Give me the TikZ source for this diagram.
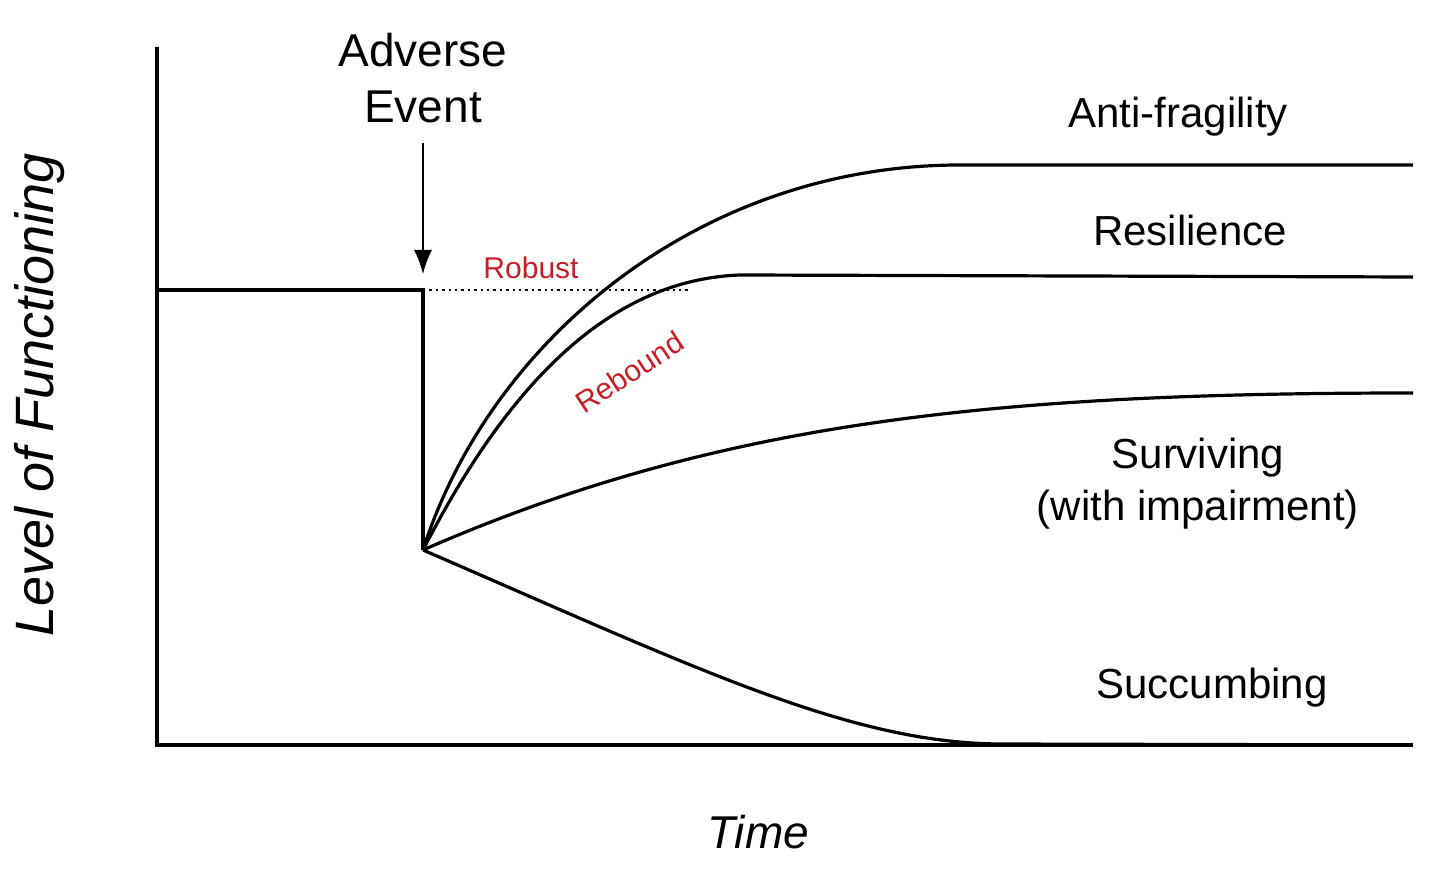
\documentclass[tikz,border=0pt]{standalone}
\usepackage{fontspec}
\setmainfont{Liberation Sans}
\usetikzlibrary{arrows.meta}
\begin{document}
\begin{tikzpicture}[x=0.5pt,y=-0.5pt,line width=1.6pt,
 lbl/.style={font=\fontsize{21}{26}\selectfont},
 red/.style={text={rgb,255:red,200;green,30;blue,40},font=\fontsize{15}{17}\selectfont}]
\useasboundingbox (0,0) rectangle (1440,881);
\coordinate (top) at (157,47);
\coordinate (o) at (157,745);
\coordinate (xe) at (1413,745);
\coordinate (b0) at (157,290);
\coordinate (b1) at (423,290);
\coordinate (low) at (423,550);
\coordinate (dot) at (690,290);
\draw (top) -- (o) -- (xe);
\draw (b0) -- (b1) -- (low);
\draw[dotted,line width=1.2pt] (b1) -- (dot);
\node[lbl,font=\fontsize{23}{28}\selectfont,align=center] (ae) at (423,78) {Adverse\\Event};
\coordinate (as) at (423,143);
\coordinate (at) at (423,274);
\draw[line width=0.8pt,-{Latex[length=12pt,width=9pt]}] (as) -- (at);
\draw (low) .. controls (490,340) and (700,165) .. (960,165) -- (1413,165);
\draw (low) .. controls (500,400) and (600,280) .. (740,275) -- (1413,277);
\draw (low) .. controls (720,420) and (1000,393) .. (1413,393);
\draw (low) .. controls (700,670) and (850,743) .. (1000,744) -- (1413,745);
\node[lbl] (af) at (1178,117) {Anti-fragility};
\node[lbl] (re) at (1190,230) {Resilience};
\node[lbl,align=center] (su) at (1198,484) {Surviving\\(with impairment)};
\node[lbl] (sc) at (1212,688) {Succumbing};
\node[red] (rb) at (531,268) {Robust};
\node[red,rotate=33] (rd) at (630,372) {Rebound};
\node[lbl,font=\itshape\fontsize{23}{27}\selectfont] (t) at (758,832) {Time};
\node[lbl,font=\itshape\fontsize{27}{30}\selectfont,rotate=90] (lf) at (40,395) {Level of Functioning};
\end{tikzpicture}
\end{document}
